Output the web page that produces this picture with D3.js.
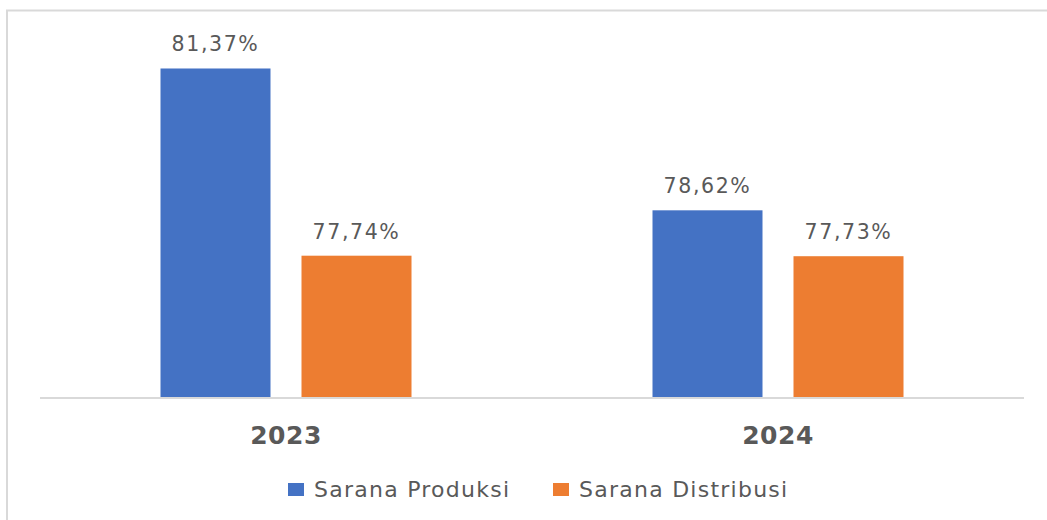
<!DOCTYPE html>
<html>
  <head>
    <meta charset="utf-8" />
    <script src="https://cdn.jsdelivr.net/npm/d3@7"></script>
    <style>
        body { margin: 0; background: #fff; }
        text { font-family: "DejaVu Sans", sans-serif; fill: #595959; }
    </style>
  </head>
  <body>
    <svg width="1047" height="520"></svg>

    <script type="text/javascript">
        var years = ["2023", "2024"];
        var seriesNames = ["Sarana Produksi", "Sarana Distribusi"];
        var produksi = [81.37, 78.62];
        var distribusi = [77.74, 77.73];
        var colors = ["#4472C4", "#ED7D31"];

        var svg = d3.select("svg");

        // outer chart frame (runs past the picture on right and bottom)
        svg.append("rect")
            .attr("x", 7).attr("y", 10.5)
            .attr("width", 1200).attr("height", 700)
            .attr("fill", "none")
            .attr("stroke", "#d9d9d9")
            .attr("stroke-width", 2);

        var x0 = d3.scaleBand().domain(years).range([40, 1024]);
        var x1 = d3.scaleBand().domain(seriesNames)
            .range([120.5, 371.5])
            .paddingInner(31 / 141);
        var y = d3.scaleLinear().domain([75, 82]).range([397, 36]);

        var rows = years.map(function(yr, i) {
            return { year: yr, values: [produksi[i], distribusi[i]] };
        });

        var groups = svg.selectAll("g.year")
            .data(rows)
            .enter()
            .append("g")
            .attr("class", "year")
            .attr("transform", function(d) { return "translate(" + x0(d.year) + ",0)"; });

        var cells = groups.selectAll("g.cell")
            .data(function(d) {
                return d.values.map(function(v, j) { return { name: seriesNames[j], value: v, j: j }; });
            })
            .enter()
            .append("g")
            .attr("class", "cell");

        cells.append("rect")
            .attr("x", function(d) { return x1(d.name); })
            .attr("y", function(d) { return y(d.value); })
            .attr("width", x1.bandwidth())
            .attr("height", function(d) { return y(75) - y(d.value); })
            .attr("fill", function(d) { return colors[d.j]; });

        cells.append("text")
            .attr("x", function(d) { return x1(d.name) + x1.bandwidth() / 2; })
            .attr("y", function(d) { return y(d.value) - 17; })
            .attr("text-anchor", "middle")
            .style("font-size", "20.5px")
            .style("letter-spacing", "1.6px")
            .text(function(d) { return d.value.toFixed(2).replace(".", ",") + "%"; });

        // baseline
        svg.append("line")
            .attr("x1", 40).attr("x2", 1024)
            .attr("y1", 398).attr("y2", 398)
            .attr("stroke", "#d9d9d9")
            .attr("stroke-width", 2);

        // category labels
        svg.selectAll("text.cat")
            .data(years)
            .enter()
            .append("text")
            .attr("class", "cat")
            .attr("x", function(d) { return x0(d) + x0.bandwidth() / 2; })
            .attr("y", 444)
            .attr("text-anchor", "middle")
            .style("font-size", "25px")
            .style("font-weight", "bold")
            .style("letter-spacing", "0.5px")
            .text(function(d) { return d; });

        // legend
        var legendX = [288, 553];
        var legend = svg.selectAll("g.legend")
            .data(seriesNames)
            .enter()
            .append("g")
            .attr("class", "legend")
            .attr("transform", function(d, i) { return "translate(" + legendX[i] + ",0)"; });

        legend.append("rect")
            .attr("x", 0).attr("y", 483)
            .attr("width", 16).attr("height", 13)
            .attr("fill", function(d, i) { return colors[i]; });

        legend.append("text")
            .attr("x", 26).attr("y", 497)
            .style("font-size", "22px")
            .style("letter-spacing", "1.25px")
            .text(function(d) { return d; });
    </script>
  </body>
</html>
